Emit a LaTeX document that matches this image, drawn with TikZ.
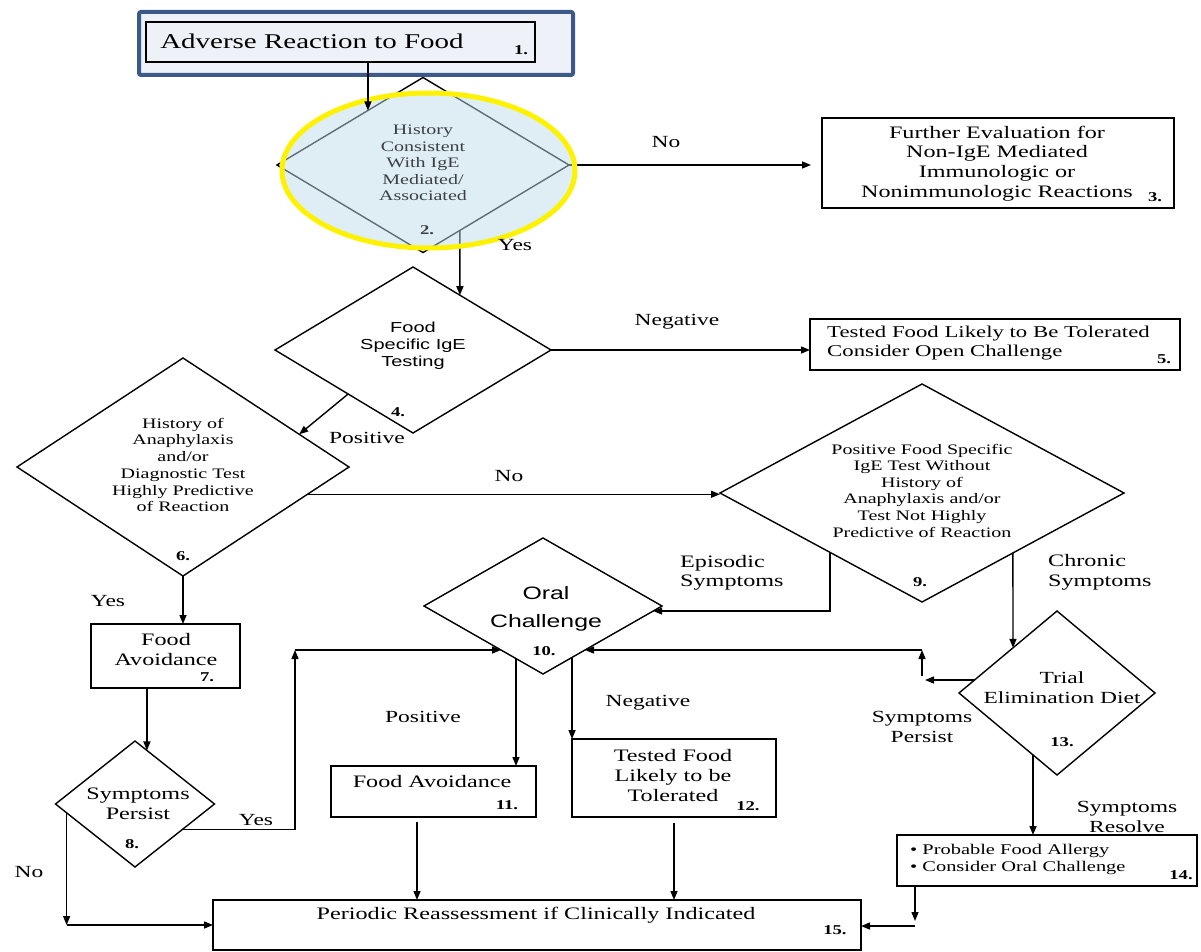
\documentclass[tikz,border=0pt]{standalone}
\usepackage{fontspec}
\setmainfont{Liberation Serif}[FakeStretch=1.38]
\newfontfamily\sansx{Liberation Sans}[FakeStretch=1.38]
\usetikzlibrary{shapes.geometric,arrows.meta,calc}
\definecolor{frameblue}{RGB}{59,90,138}
\definecolor{framefill}{RGB}{238,242,248}
\definecolor{hlfill}{RGB}{189,221,233}
\definecolor{hlyellow}{RGB}{255,242,0}
\definecolor{hltext}{RGB}{60,64,68}
\begin{document}
\begin{tikzpicture}[x=1pt,y=-1pt,
  box/.style={draw, rectangle, inner sep=0pt, outer sep=0pt, line width=1.4pt},
  dia/.style={draw, diamond, inner sep=0pt, outer sep=0pt, line width=1.4pt},
  arr/.style={-{Triangle[length=9pt,width=7pt]}, line width=1.4pt},
  txt/.style={inner sep=0pt, align=center},
  lbl/.style={inner sep=0pt, align=center, font=\fontsize{17}{20}\selectfont},
  num/.style={inner sep=0pt, font=\fontsize{13.5}{15}\selectfont\bfseries}]
\useasboundingbox (0,0) rectangle (1201,952);

% ---------- shapes ----------
\node[dia, minimum width=292pt, minimum height=175pt] (d2) at (423,165) {};
\node[box, minimum width=352pt, minimum height=90pt] (b3) at (998,163) {};
\node[dia, minimum width=276pt, minimum height=166pt] (d4) at (413,350) {};
\node[box, minimum width=370pt, minimum height=51pt] (b5) at (995,344.5) {};
\node[dia, minimum width=332pt, minimum height=218pt] (d6) at (183,467) {};
\node[dia, minimum width=404pt, minimum height=218pt] (d9) at (922,493) {};
\node[box, minimum width=149pt, minimum height=64pt] (b7) at (165.5,656) {};
\node[dia, minimum width=159pt, minimum height=126pt] (d8) at (135,804) {};
\node[dia, minimum width=238pt, minimum height=136pt] (d10) at (543,606) {};
\node[dia, minimum width=196pt, minimum height=164pt] (d13) at (1057,693) {};
\node[box, minimum width=205pt, minimum height=51pt] (b11) at (433.5,791.5) {};
\node[box, minimum width=204pt, minimum height=78pt] (b12) at (674,778) {};
\node[box, minimum width=300pt, minimum height=51pt] (b14) at (1047,860.5) {};
\node[box, minimum width=648pt, minimum height=50pt] (b15) at (537,925) {};

% ---------- texts ----------
\node[txt, font=\fontsize{17.5}{19.8}\selectfont] (t3) at (997,163.5) {Further Evaluation for\\Non-IgE Mediated\\Immunologic or\\Nonimmunologic Reactions};
\node[num] (n3) at (1155,197) {3.};
\node[txt, font=\sansx\fontsize{14.5}{17}\selectfont] (t4) at (413,345.5) {Food\\Specific IgE\\Testing};
\node[num] (n4) at (398,412) {4.};
\node[txt, align=left, anchor=west, font=\fontsize{16.5}{19}\selectfont] (t5) at (827,343.5) {Tested Food Likely to Be Tolerated\\Consider Open Challenge};
\node[num] (n5) at (1164,359) {5.};
\node[txt, font=\fontsize{14.5}{16.7}\selectfont] (t6) at (183,465) {History of\\Anaphylaxis\\and/or\\Diagnostic Test\\Highly Predictive\\of Reaction};
\node[num] (n6) at (183,556) {6.};
\node[txt, font=\fontsize{17.5}{20}\selectfont] (t7) at (166,650) {Food\\Avoidance};
\node[num] (n7) at (207,677) {7.};
\node[txt, font=\fontsize{17.5}{20}\selectfont] (t8) at (138,804) {Symptoms\\Persist};
\node[num] (n8) at (132,844) {8.};
\node[txt, font=\fontsize{14.5}{16.6}\selectfont] (t9) at (922,490.5) {Positive Food Specific\\IgE Test Without\\History of\\Anaphylaxis and/or\\Test Not Highly\\Predictive of Reaction};
\node[num] (n9) at (920,582) {9.};
\node[txt, font=\sansx\fontsize{18}{28}\selectfont] (t10) at (546,609) {Oral\\Challenge};
\node[num] (n10) at (544,651) {10.};
\node[txt, font=\fontsize{17.5}{20}\selectfont] (t11) at (432,782) {Food Avoidance};
\node[num] (n11) at (507,805) {11.};
\node[txt, font=\fontsize{17.5}{20}\selectfont] (t12) at (673,776) {Tested Food\\Likely to be\\Tolerated};
\node[num] (n12) at (748,806) {12.};
\node[txt, font=\fontsize{17}{20}\selectfont] (t13) at (1062,688) {Trial\\Elimination Diet};
\node[num] (n13) at (1062,742) {13.};
\node[txt, align=left, anchor=west, font=\fontsize{14.8}{17}\selectfont] (t14) at (910,859.5) {• Probable Food Allergy\\• Consider Oral Challenge};
\node[num] (n14) at (1181,875) {14.};
\node[txt, font=\fontsize{17.5}{20}\selectfont] (t15) at (536,915) {Periodic Reassessment if Clinically Indicated};
\node[num] (n15) at (835,930) {15.};

% ---------- connectors from diamond 2 (under the highlight) ----------
\draw[arr, shorten >=11pt] (d2.east) -- (d2.east -| b3.west);
\coordinate (s24) at ($(d2.south)!0.253!(d2.east)$);
\coordinate (e24) at ($(d4.north)!0.34!(d4.east)$);
\draw[arr] (s24) -- (e24);

% ---------- highlight and title ----------
\node[ellipse, inner sep=0pt, minimum width=293pt, minimum height=155pt,
      fill=hlfill, fill opacity=0.5, draw=hlyellow, draw opacity=1, line width=5pt] (hl) at (428.5,170.5) {};
\node[txt, text=hltext, font=\fontsize{14.5}{16.6}\selectfont] (t2) at (423,163) {History\\Consistent\\With IgE\\Mediated/\\Associated};
\node[num, text=hltext] (n2) at (427,230) {2.};
\node[draw=frameblue, fill=framefill, line width=4pt, rounded corners=2pt,
      minimum width=434pt, minimum height=63pt, inner sep=0pt] (b1out) at (356,43.5) {};
\node[box, minimum width=389pt, minimum height=40pt] (b1in) at (340.5,42) {};
\node[txt, font=\fontsize{21}{24}\selectfont] (t1) at (312,41) {Adverse Reaction to Food};
\node[num] (n1) at (521,50) {1.};

% ---------- connectors ----------
\coordinate (e12) at ($(d2.west)!0.623!(d2.north)$);
\draw[arr] (b1in.south -| e12) -- (e12);

\draw[arr] (d4.east) -- (d4.east -| b5.west);
\draw[arr] ($(d4.west)!0.53!(d4.south)$) -- ($(d6.north)!0.7!(d6.east)$);

\coordinate (s69) at ($(d6.east)!0.25!(d6.south)$);
\draw[arr] (s69) -- (s69 -| d9.west);
\draw[arr] (d6.south) -- (d6.south |- b7.north);

\coordinate (e78) at ($(d8.north)!0.15!(d8.east)$);
\draw[arr] (b7.south -| e78) -- (e78);

\coordinate (s8y) at ($(d8.east)!0.4!(d8.south)$);
\coordinate (k1) at (295,650);
\coordinate (e10l) at ($(d10.west)!0.647!(d10.south)$);
\draw[arr] (s8y) -| (k1);
\draw[arr] (k1) -- (k1 -| e10l);

\coordinate (s8n) at ($(d8.west)!0.14!(d8.south)$);
\coordinate (y925) at (0,925);
\coordinate (k2) at (s8n |- y925);
\draw[arr] (s8n) -- (k2);
\draw[arr] (k2) -- (k2 -| b15.west);

\coordinate (s910) at ($(d9.west)!0.545!(d9.south)$);
\coordinate (e910) at ($(d10.east)!0.074!(d10.south)$);
\draw[arr] (s910) |- (e910);

\coordinate (s913) at ($(d9.south)!0.45!(d9.east)$);
\coordinate (e913) at ($(d13.west)!0.551!(d13.north)$);
\draw[arr] (s913) -- (e913);

\coordinate (s1310) at ($(d13.west)!0.1585!(d13.north)$);
\coordinate (k3a) at (925,680);
\coordinate (k3b) at (922,676);
\coordinate (k3) at (922,650);
\coordinate (e1310) at ($(d10.east)!0.647!(d10.south)$);
\draw[arr] (s1310) -- (s1310 -| k3a);
\draw[arr] (k3b) -- (k3);
\draw[arr] (k3) -- (k3 -| e1310);

\coordinate (s1011) at ($(d10.west)!0.773!(d10.south)$);
\draw[arr] (s1011) -- (s1011 |- b11.north);
\coordinate (s1012) at ($(d10.east)!0.756!(d10.south)$);
\draw[arr] (s1012) -- (s1012 |- b12.north);

\coordinate (x417) at (417,0);
\draw[arr, shorten <=5pt] (b11.south -| x417) -- (b15.north -| x417);
\draw[arr, shorten <=6pt] (b12.south) -- (b12.south |- b15.north);

\coordinate (s1314) at ($(d13.west)!0.755!(d13.south)$);
\draw[arr] (s1314) -- (s1314 |- b14.north);

\coordinate (k4) at (915,921);
\coordinate (k5) at (915,926);
\draw[arr] (b14.south -| k4) -- (k4);
\draw[arr] (k5) -- (k5 -| b15.east);

% ---------- connector labels ----------
\node[lbl] (l23) at (666,142) {No};
\node[lbl] (l24) at (515,245) {Yes};
\node[lbl] (l45) at (677,322) {Negative};
\node[lbl] (l46) at (367,438) {Positive};
\node[lbl] (l69) at (509,476) {No};
\node[lbl] (l67) at (108,601) {Yes};
\node[lbl, align=left, anchor=west, font=\fontsize{17.5}{19}\selectfont] (l910) at (680,572.5) {Episodic\\Symptoms};
\node[lbl, align=left, anchor=west, font=\fontsize{17.5}{20}\selectfont] (l913) at (1048,572) {Chronic\\Symptoms};
\node[lbl] (l8y) at (256,820) {Yes};
\node[lbl] (l8n) at (29,872) {No};
\node[lbl] (l1011) at (423,717) {Positive};
\node[lbl] (l1012) at (648,703) {Negative};
\node[lbl] (l1310) at (922,727) {Symptoms\\Persist};
\node[lbl] (l1314) at (1127,817) {Symptoms\\Resolve};
\end{tikzpicture}
\end{document}
